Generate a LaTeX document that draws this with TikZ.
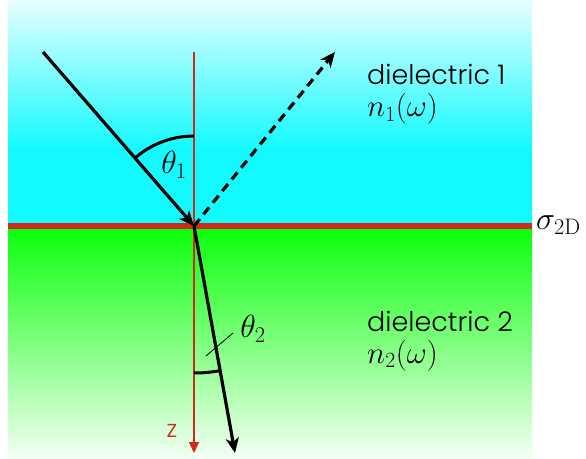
\RequirePackage{fix-cm}
\documentclass[tikz,border=0pt]{standalone}
\usepackage{fontspec}
\newfontfamily\gothic{Poppins}[UprightFont={* Light}]
\usetikzlibrary{arrows.meta}
\definecolor{myred}{RGB}{208,42,28}
\definecolor{mycyan}{RGB}{18,250,255}
\definecolor{mygreen}{RGB}{10,255,10}
\pgfdeclareverticalshading{cyanfade}{100bp}{color(0bp)=(mycyan); color(42bp)=(mycyan); color(75bp)=(white!90!mycyan); color(100bp)=(white!90!mycyan)}
\pgfdeclareverticalshading{greenfade}{100bp}{color(0bp)=(white); color(25bp)=(white!95!mygreen); color(75bp)=(mygreen); color(100bp)=(mygreen)}
\tikzset{
  ray/.style={line width=3.2pt, -{Stealth[length=15pt,width=13pt,inset=4pt]}},
  normal/.style={myred, line width=2pt, -{Triangle[length=11pt,width=10pt]}},
  anglearc/.style={line width=3pt},
  lbl/.style={font=\gothic\fontsize{27}{32}\selectfont, anchor=base west, inner sep=0pt},
  mathlbl/.style={font=\fontsize{31}{36}\selectfont, anchor=base west, inner sep=0pt},
  mlbl/.style={font=\fontsize{32}{37}\selectfont, inner sep=0pt}
}
\begin{document}
\begin{tikzpicture}[x=1pt,y=1pt]
\useasboundingbox (0,0) rectangle (586,458);
% media
\shade[shading=cyanfade] (8,232) rectangle (532,458);
\shade[shading=greenfade] (8,0) rectangle (532,232);
% normal
\coordinate (O) at (194,232);
\coordinate (Ntop) at (194,406);
\coordinate (Nbot) at (194,5);
\draw[normal] (Ntop) -- (Nbot);
% interface
\coordinate (IL) at (8,232);
\coordinate (IR) at (532,232);
\draw[myred, line width=6.5pt] (IL) -- (IR);
% rays
\coordinate (A) at (43,406);
\coordinate (R) at (335,406);
\coordinate (T) at (235,5);
\draw[ray] (A) -- (O);
\draw[ray, dash pattern=on 9pt off 6pt] (O) -- (R);
\draw[ray] (O) -- (T);
% angles
\draw[anglearc] ([shift={(90:90)}]O) arc[start angle=90, end angle=131, radius=90];
\draw[anglearc] ([shift={(270:147)}]O) arc[start angle=270, end angle=280.3, radius=147];
\node[mlbl] (th1) at (174,293) {$\theta_1$};
\node[mlbl] (th2) at (253,129) {$\theta_2$};
\coordinate (L1) at (206,102);
\coordinate (L2) at (233,125);
\draw[line width=0.8pt] (L1) -- (L2);
% labels
\node[myred, font=\gothic\fontsize{24}{28}\selectfont, inner sep=0pt] (z) at (172,27) {z};
\node[lbl] (d1) at (367,373) {dielectric 1};
\node[mathlbl] (n1) at (367,341) {$n_1(\omega)$};
\node[lbl] (d2) at (367,126) {dielectric 2};
\node[mathlbl] (n2) at (367,95) {$n_2(\omega)$};
\node[mlbl, anchor=west] (sig) at (536,233) {$\sigma_{\mathrm{2D}}$};
\end{tikzpicture}
\end{document}
